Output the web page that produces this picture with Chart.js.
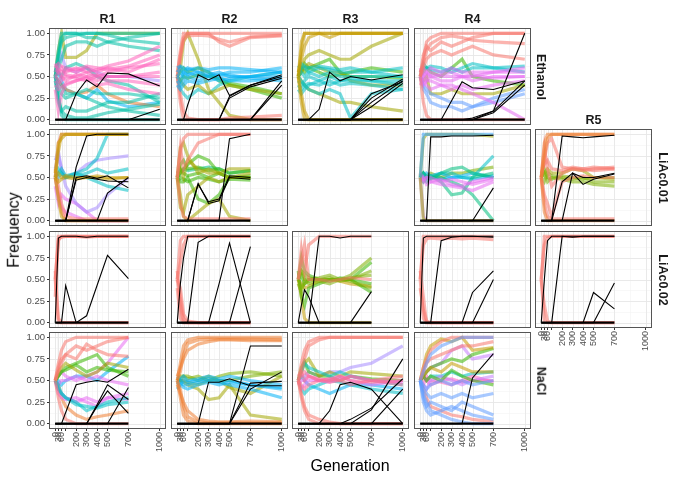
<!DOCTYPE html>
<html>
<head>
<meta charset="utf-8">
<script src="https://cdn.jsdelivr.net/npm/chart.js@4.4.1/dist/chart.umd.min.js"></script>
<style>
  body { margin: 0; background: #fff; font-family: "Liberation Sans", Arial, sans-serif; }
  #wrap { position: relative; width: 680px; height: 480px; overflow: hidden; }
  #wrap canvas { position: absolute; }
  .lbl { position: absolute; white-space: nowrap; color: #1a1a1a; transform-origin: center center; }
  .strip { font-weight: bold; font-size: 12.5px; }
  .title { font-size: 16px; color: #000; }
</style>
</head>
<body>
<div id="wrap"></div>
<script>
// generations sampled, ticks
const gens = [0, 30, 60, 100, 200, 300, 400, 500, 700, 1000];
const xTickValues = [0, 30, 60, 100, 200, 300, 400, 500, 700, 1000];
const xTickLabels = ['0', '30', '60', '', '200', '300', '400', '500', '700', '1000'];
const yTickValues = [0, 0.25, 0.5, 0.75, 1];
const yTickLabels = ['0.00', '0.25', '0.50', '0.75', '1.00'];
const replicates = ['R1', 'R2', 'R3', 'R4', 'R5'];
const conditions = ['Ethanol', 'LiAc0.01', 'LiAc0.02', 'NaCl'];

// each entry: [lineage group, frequency at gens]; 'mut' = mutation trajectories (black)
const ethanolR1 = [
  ['p', [0.50, 0.55, 0.60, 0.52, 0.50, 0.55, 0.50, 0.55, 0.60, 0.65]],
  ['p', [0.45, 0.40, 0.45, 0.50, 0.48, 0.45, 0.50, 0.45, 0.45, 0.40]],
  ['p', [0.55, 0.60, 0.55, 0.58, 0.55, 0.60, 0.55, 0.60, 0.55, 0.70]],
  ['p', [0.50, 0.45, 0.50, 0.45, 0.52, 0.50, 0.45, 0.50, 0.50, 0.50]],
  ['p', [0.40, 0.35, 0.38, 0.42, 0.45, 0.48, 0.40, 0.42, 0.35, 0.30]],
  ['p', [0.60, 0.65, 0.62, 0.60, 0.58, 0.62, 0.60, 0.58, 0.62, 0.75]],
  ['p', [0.35, 0.10, 0.30, 0.40, 0.45, 0.50, 0.52, 0.50, 0.50, 0.55]],
  ['p', [0.65, 0.55, 0.50, 0.55, 0.60, 0.55, 0.58, 0.62, 0.68, 0.85]],
  ['h', [0.50, 0.70, 0.95, 1.00, 1.00, 1.00, 1.00, 1.00, 1.00, 1.00]],
  ['h', [0.50, 0.30, 0.05, 0.00, 0.00, 0.00, 0.00, 0.00, 0.00, 0.00]],
  ['h', [0.50, 0.80, 1.00, 1.00, 1.00, 0.95, 0.95, 0.90, 0.85, 0.80]],
  ['h', [0.50, 0.20, 0.10, 0.15, 0.10, 0.10, 0.15, 0.20, 0.20, 0.30]],
  ['h', [0.50, 0.60, 0.70, 0.85, 0.90, 0.90, 0.85, 0.90, 0.95, 1.00]],
  ['h', [0.50, 0.40, 0.30, 0.25, 0.30, 0.25, 0.20, 0.15, 0.10, 0.05]],
  ['h', [0.50, 0.55, 0.50, 0.60, 0.65, 0.60, 0.50, 0.45, 0.40, 0.20]],
  ['h', [0.50, 0.45, 0.40, 0.30, 0.30, 0.35, 0.30, 0.30, 0.30, 0.25]],
  ['h', [0.55, 0.75, 0.90, 0.95, 0.98, 1.00, 1.00, 0.98, 0.92, 0.88]],
  ['h', [0.45, 0.25, 0.10, 0.05, 0.02, 0.02, 0.05, 0.08, 0.12, 0.18]],
  ['d', [0.50, 0.80, 1.00, 0.72, 0.72, 0.80, 1.00, 1.00, 1.00, 1.00]],
  ['b', [0.50, 0.45, 0.40, 0.35, 0.30, 0.32, 0.40, 0.30, 0.20, 0.15]],
  ['j', [0.50, 0.55, 0.45, 0.35, 0.30, 0.25, 0.35, 0.22, 0.15, 0.20]],
  ['m', [0.55, 0.65, 0.75, 0.60, 0.55, 0.60, 0.55, 0.50, 0.50, 0.45]],
  ['mut', [0, 0, 0, 0, 0, 0, 0, 0, 0, 0]],
  ['mut', [0, 0, 0, 0, 0.30, 0.46, 0.38, 0.54, 0.53, 0.39]],
  ['mut', [0, 0, 0, 0, 0, 0, 0, 0, 0, 0.12]]
];

const ethanolR2 = [
  ['j', [0.50, 0.55, 0.50, 0.55, 0.50, 0.52, 0.55, 0.50, 0.50, 0.50]],
  ['j', [0.45, 0.40, 0.45, 0.50, 0.45, 0.50, 0.45, 0.48, 0.50, 0.55]],
  ['j', [0.55, 0.60, 0.55, 0.60, 0.55, 0.50, 0.52, 0.55, 0.55, 0.60]],
  ['j', [0.40, 0.35, 0.40, 0.45, 0.42, 0.45, 0.48, 0.45, 0.45, 0.48]],
  ['j', [0.60, 0.62, 0.60, 0.58, 0.60, 0.58, 0.60, 0.60, 0.58, 0.55]],
  ['j', [0.50, 0.45, 0.55, 0.52, 0.55, 0.55, 0.50, 0.52, 0.48, 0.45]],
  ['a', [0.50, 0.70, 0.95, 1.00, 1.00, 1.00, 0.90, 0.85, 0.95, 0.97]],
  ['a', [0.50, 0.80, 1.00, 1.00, 1.00, 1.00, 1.00, 1.00, 1.00, 1.00]],
  ['a', [0.50, 0.30, 0.10, 0.02, 0.00, 0.00, 0.00, 0.02, 0.03, 0.05]],
  ['a', [0.50, 0.20, 0.00, 0.00, 0.00, 0.00, 0.00, 0.00, 0.00, 0.00]],
  ['a', [0.55, 0.75, 0.92, 0.97, 0.98, 0.97, 0.93, 0.90, 0.96, 0.98]],
  ['d', [0.50, 0.60, 0.90, 1.00, 0.70, 0.35, 0.20, 0.05, 0.00, 0.00]],
  ['d', [0.50, 0.45, 0.40, 0.35, 0.40, 0.30, 0.35, 0.40, 0.35, 0.30]],
  ['i', [0.50, 0.35, 0.30, 0.25, 0.35, 0.30, 0.40, 0.45, 0.50, 0.55]],
  ['f', [0.50, 0.55, 0.60, 0.55, 0.60, 0.55, 0.45, 0.40, 0.35, 0.25]],
  ['f', [0.50, 0.45, 0.50, 0.48, 0.52, 0.50, 0.48, 0.42, 0.38, 0.30]],
  ['mut', [0, 0, 0, 0, 0, 0, 0, 0, 0, 0]],
  ['mut', [0, 0, 0, 0.17, 0.52, 0.46, 0.52, 0.28, 0.40, 0.50]],
  ['mut', [0, 0, 0, 0, 0, 0, 0, 0.25, 0.38, 0.48]],
  ['mut', [0, 0, 0, 0, 0, 0, 0, 0.27, 0.40, 0.52]],
  ['mut', [0, 0, 0, 0, 0, 0, 0, 0, 0, 0.45]],
  ['mut', [0, 0, 0, 0, 0, 0, 0, 0, 0, 0.40]]
];

const ethanolR3 = [
  ['c', [0.50, 0.80, 1.00, 1.00, 1.00, 1.00, 1.00, 1.00, 1.00, 1.00]],
  ['c', [0.50, 0.20, 0.00, 0.00, 0.00, 0.00, 0.00, 0.00, 0.00, 0.00]],
  ['c', [0.50, 0.90, 1.00, 1.00, 1.00, 0.95, 1.00, 1.00, 1.00, 1.00]],
  ['c', [0.50, 0.30, 0.10, 0.00, 0.00, 0.00, 0.00, 0.00, 0.00, 0.00]],
  ['c', [0.55, 0.70, 0.85, 0.95, 1.00, 1.00, 1.00, 1.00, 1.00, 1.00]],
  ['i', [0.50, 0.55, 0.50, 0.55, 0.50, 0.55, 0.50, 0.50, 0.50, 0.50]],
  ['i', [0.45, 0.40, 0.45, 0.50, 0.45, 0.50, 0.45, 0.45, 0.45, 0.40]],
  ['i', [0.55, 0.60, 0.60, 0.55, 0.60, 0.58, 0.55, 0.55, 0.55, 0.60]],
  ['i', [0.40, 0.35, 0.40, 0.42, 0.40, 0.45, 0.40, 0.42, 0.40, 0.35]],
  ['i', [0.60, 0.65, 0.62, 0.60, 0.62, 0.60, 0.58, 0.60, 0.55, 0.50]],
  ['i', [0.50, 0.45, 0.40, 0.35, 0.30, 0.35, 0.30, 0.02, 0.30, 0.35]],
  ['i', [0.35, 0.30, 0.35, 0.40, 0.45, 0.40, 0.45, 0.48, 0.45, 0.45]],
  ['d', [0.50, 0.60, 0.70, 0.75, 0.80, 0.75, 0.70, 0.70, 0.85, 1.00]],
  ['d', [0.50, 0.55, 0.60, 0.65, 0.60, 0.55, 0.55, 0.45, 0.40, 0.40]],
  ['d', [0.50, 0.45, 0.40, 0.35, 0.30, 0.25, 0.20, 0.20, 0.15, 0.10]],
  ['f', [0.50, 0.60, 0.55, 0.60, 0.65, 0.70, 0.55, 0.50, 0.50, 0.48]],
  ['f', [0.50, 0.55, 0.65, 0.60, 0.55, 0.50, 0.52, 0.55, 0.60, 0.55]],
  ['mut', [0, 0, 0, 0, 0, 0, 0, 0, 0, 0]],
  ['mut', [0, 0, 0, 0, 0.12, 0.55, 0.45, 0.50, 0.46, 0.52]],
  ['mut', [0, 0, 0, 0, 0, 0, 0, 0, 0.20, 0.45]],
  ['mut', [0, 0, 0, 0, 0, 0, 0, 0, 0.25, 0.47]],
  ['mut', [0, 0, 0, 0, 0, 0, 0, 0, 0.15, 0.42]],
  ['mut', [0, 0, 0, 0, 0, 0, 0, 0, 0.30, 0.44]]
];

const ethanolR4 = [
  ['a', [0.50, 0.70, 0.90, 0.95, 1.00, 1.00, 1.00, 1.00, 1.00, 1.00]],
  ['a', [0.50, 0.75, 0.85, 0.80, 0.90, 0.85, 0.90, 0.95, 1.00, 1.00]],
  ['a', [0.50, 0.60, 0.70, 0.75, 0.80, 0.75, 0.80, 0.85, 0.75, 0.70]],
  ['a', [0.50, 0.20, 0.05, 0.00, 0.00, 0.00, 0.00, 0.00, 0.00, 0.00]],
  ['a', [0.55, 0.65, 0.80, 0.88, 0.95, 0.97, 0.95, 0.92, 0.90, 0.88]],
  ['o', [0.50, 0.55, 0.50, 0.55, 0.50, 0.50, 0.50, 0.50, 0.55, 0.55]],
  ['o', [0.45, 0.50, 0.45, 0.50, 0.45, 0.45, 0.50, 0.45, 0.50, 0.50]],
  ['o', [0.55, 0.60, 0.55, 0.60, 0.55, 0.60, 0.55, 0.55, 0.55, 0.60]],
  ['o', [0.50, 0.40, 0.45, 0.45, 0.40, 0.40, 0.35, 0.30, 0.20, 0.00]],
  ['o', [0.40, 0.45, 0.40, 0.35, 0.40, 0.35, 0.40, 0.35, 0.40, 0.45]],
  ['o', [0.60, 0.50, 0.55, 0.50, 0.52, 0.55, 0.50, 0.52, 0.48, 0.50]],
  ['i', [0.55, 0.60, 0.60, 0.58, 0.55, 0.60, 0.55, 0.60, 0.60, 0.62]],
  ['i', [0.50, 0.65, 0.60, 0.62, 0.60, 0.55, 0.60, 0.65, 0.60, 0.55]],
  ['l', [0.50, 0.40, 0.35, 0.30, 0.25, 0.20, 0.20, 0.15, 0.25, 0.35]],
  ['l', [0.50, 0.35, 0.30, 0.20, 0.15, 0.15, 0.10, 0.15, 0.20, 0.30]],
  ['d', [0.50, 0.45, 0.50, 0.30, 0.30, 0.35, 0.30, 0.30, 0.30, 0.40]],
  ['f', [0.50, 0.55, 0.60, 0.55, 0.50, 0.60, 0.70, 0.50, 0.45, 0.40]],
  ['mut', [0, 0, 0, 0, 0, 0, 0, 0, 0, 0]],
  ['mut', [0, 0, 0, 0, 0, 0.22, 0.44, 0.37, 0.35, 0.45]],
  ['mut', [0, 0, 0, 0, 0, 0, 0, 0, 0.10, 1.00]],
  ['mut', [0, 0, 0, 0, 0, 0, 0, 0.02, 0.10, 0.45]],
  ['mut', [0, 0, 0, 0, 0, 0, 0, 0, 0.08, 0.40]]
];

const liac01R1 = [
  ['c', [0.50, 0.80, 1.00, 1.00, 1.00, 1.00, 1.00, 1.00, 1.00]],
  ['c', [0.50, 0.25, 0.05, 0.00, 0.00, 0.00, 0.00, 0.00, 0.00]],
  ['c', [0.50, 0.55, 0.50, 0.52, 0.50, 0.50, 0.52, 0.50, 0.50]],
  ['c', [0.50, 0.45, 0.48, 0.50, 0.48, 0.50, 0.50, 0.48, 0.50]],
  ['c', [0.55, 0.90, 0.95, 1.00, 1.00, 1.00, 1.00, 1.00, 1.00]],
  ['a', [0.50, 0.30, 0.10, 0.00, 0.00, 0.00, 0.00, 0.00, 0.00]],
  ['a', [0.50, 0.90, 1.00, 1.00, 1.00, 1.00, 1.00, 1.00, 1.00]],
  ['a', [0.60, 0.40, 0.20, 0.05, 0.02, 0.02, 0.02, 0.02, 0.02]],
  ['i', [0.50, 0.60, 0.55, 0.50, 0.55, 0.60, 0.72, 1.00, 1.00]],
  ['i', [0.50, 0.55, 0.60, 0.52, 0.55, 0.50, 0.45, 0.40, 0.35]],
  ['i', [0.55, 0.50, 0.55, 0.50, 0.52, 0.55, 0.60, 0.55, 0.60]],
  ['m', [0.60, 0.75, 0.60, 0.50, 0.55, 0.65, 0.70, 0.72, 0.75]],
  ['m', [0.70, 0.80, 0.60, 0.40, 0.20, 0.10, 0.15, 0.30, 0.50]],
  ['o', [0.50, 0.30, 0.15, 0.10, 0.05, 0.00, 0.00, 0.00, 0.00]],
  ['o', [0.40, 0.20, 0.30, 0.25, 0.20, 0.10, 0.00, 0.00, 0.00]],
  ['mut', [0, 0, 0, 0, 0, 0, 0, 0, 0]],
  ['mut', [0, 0, 0, 0, 0.62, 0.98, 1.00, 1.00, 1.00]],
  ['mut', [0, 0, 0, 0, 0.50, 0.52, 0.49, 0.52, 0.38]],
  ['mut', [0, 0, 0, 0, 0.47, 0.50, 0.48, 0.46, 0.45]],
  ['mut', [0, 0, 0, 0, 0, 0, 0, 0.32, 0.50]]
];

const liac01R2 = [
  ['a', [0.50, 0.80, 0.95, 1.00, 1.00, 1.00, 1.00, 1.00, 1.00]],
  ['a', [0.50, 0.20, 0.05, 0.02, 0.02, 0.02, 0.02, 0.02, 0.02]],
  ['a', [0.50, 0.85, 0.60, 0.70, 0.90, 0.95, 1.00, 1.00, 1.00]],
  ['d', [0.50, 0.85, 0.90, 0.75, 0.55, 0.60, 0.55, 0.50, 0.55]],
  ['d', [0.50, 0.15, 0.10, 0.30, 0.40, 0.50, 0.45, 0.50, 0.50]],
  ['d', [0.50, 0.30, 0.05, 0.00, 0.10, 0.20, 0.25, 0.05, 0.00]],
  ['d', [0.50, 0.60, 0.50, 0.70, 0.60, 0.55, 0.55, 0.60, 0.60]],
  ['f', [0.50, 0.55, 0.60, 0.65, 0.75, 0.70, 0.55, 0.50, 0.50]],
  ['f', [0.50, 0.45, 0.45, 0.50, 0.25, 0.20, 0.30, 0.50, 0.50]],
  ['f', [0.55, 0.60, 0.55, 0.52, 0.55, 0.50, 0.55, 0.50, 0.52]],
  ['f', [0.45, 0.50, 0.48, 0.45, 0.50, 0.48, 0.45, 0.48, 0.47]],
  ['f', [0.50, 0.65, 0.70, 0.60, 0.62, 0.58, 0.60, 0.55, 0.58]],
  ['g', [0.50, 0.55, 0.60, 0.58, 0.60, 0.62, 0.60, 0.55, 0.58]],
  ['mut', [0, 0, 0, 0, 0, 0, 0, 0, 0]],
  ['mut', [0, 0, 0, 0, 0.43, 0.20, 0.23, 0.50, 0.48]],
  ['mut', [0, 0, 0, 0, 0.42, 0.22, 0.25, 0.52, 0.50]],
  ['mut', [0, 0, 0, 0, 0, 0, 0, 0.95, 1.00]]
];

const liac01R4 = [
  ['k', [0.50, 1.00, 1.00, 1.00, 1.00, 1.00, 1.00, 1.00, 1.00]],
  ['d', [0.50, 0.95, 1.00, 1.00, 1.00, 1.00, 1.00, 1.00, 0.98]],
  ['d', [0.50, 0.02, 0.00, 0.00, 0.00, 0.00, 0.00, 0.00, 0.00]],
  ['n', [0.50, 0.05, 0.00, 0.00, 0.00, 0.00, 0.00, 0.00, 0.00]],
  ['o', [0.50, 0.45, 0.50, 0.45, 0.48, 0.42, 0.40, 0.45, 0.50]],
  ['o', [0.45, 0.50, 0.42, 0.45, 0.42, 0.40, 0.38, 0.35, 0.45]],
  ['o', [0.55, 0.48, 0.50, 0.50, 0.45, 0.48, 0.45, 0.42, 0.48]],
  ['g', [0.50, 0.55, 0.50, 0.52, 0.45, 0.30, 0.32, 0.50, 0.55]],
  ['g', [0.50, 0.45, 0.50, 0.48, 0.55, 0.60, 0.62, 0.55, 0.50]],
  ['i', [0.50, 0.55, 0.50, 0.50, 0.55, 0.55, 0.50, 0.50, 0.75]],
  ['g', [0.50, 0.50, 0.45, 0.50, 0.50, 0.45, 0.40, 0.30, 0.00]],
  ['j', [0.50, 0.50, 0.55, 0.52, 0.55, 0.50, 0.52, 0.55, 0.50]],
  ['j', [0.52, 0.55, 0.50, 0.50, 0.48, 0.50, 0.50, 0.48, 0.52]],
  ['e', [0.50, 0.55, 0.52, 0.55, 0.50, 0.55, 0.55, 0.58, 0.62]],
  ['mut', [0, 0, 0, 0, 0, 0, 0, 0, 0]],
  ['mut', [0, 0, 0, 0.97, 0.97, 0.98, 0.98, 0.98, 0.99]],
  ['mut', [0, 0, 0, 0, 0, 0, 0, 0, 0.38]]
];

const liac01R5 = [
  ['b', [0.50, 0.90, 1.00, 1.00, 1.00, 1.00, 1.00, 1.00, 1.00]],
  ['b', [0.50, 0.10, 0.00, 0.00, 0.00, 0.00, 0.00, 0.00, 0.00]],
  ['b', [0.50, 0.75, 0.95, 1.00, 1.00, 1.00, 1.00, 1.00, 1.00]],
  ['a', [0.50, 0.85, 0.60, 0.40, 0.55, 0.60, 0.60, 0.62, 0.60]],
  ['a', [0.50, 0.30, 0.20, 0.05, 0.45, 0.50, 0.52, 0.50, 0.50]],
  ['a', [0.50, 0.70, 0.90, 0.95, 0.62, 0.60, 0.58, 0.60, 0.62]],
  ['a', [0.50, 0.20, 0.05, 0.02, 0.02, 0.02, 0.02, 0.02, 0.02]],
  ['a', [0.55, 0.65, 0.70, 0.60, 0.58, 0.62, 0.60, 0.58, 0.60]],
  ['e', [0.50, 0.55, 0.45, 0.50, 0.48, 0.45, 0.45, 0.42, 0.40]],
  ['e', [0.50, 0.45, 0.55, 0.52, 0.50, 0.48, 0.50, 0.45, 0.45]],
  ['e', [0.50, 0.60, 0.50, 0.48, 0.52, 0.50, 0.48, 0.50, 0.50]],
  ['d', [0.50, 0.55, 0.60, 0.55, 0.55, 0.60, 0.58, 0.50, 0.48]],
  ['mut', [0, 0, 0, 0, 0, 0, 0, 0, 0]],
  ['mut', [0, 0, 0, 0, 0.98, 0.97, 0.96, 0.97, 0.99]],
  ['mut', [0, 0, 0, 0, 0, 0.55, 0.42, 0.48, 0.54]],
  ['mut', [0, 0, 0, 0, 0.45, 0.55, 0.50, 0.50, 0.55]]
];

const liac02R1 = [
  ['a', [0.50, 1.00, 1.00, 1.00, 1.00, 1.00, 1.00, 1.00, 1.00]],
  ['a', [0.50, 0.95, 1.00, 1.00, 1.00, 0.99, 1.00, 1.00, 1.00]],
  ['a', [0.50, 0.00, 0.00, 0.00, 0.00, 0.00, 0.00, 0.00, 0.00]],
  ['a', [0.60, 0.05, 0.00, 0.00, 0.00, 0.00, 0.00, 0.00, 0.00]],
  ['a', [0.30, 0.97, 0.99, 1.00, 1.00, 1.00, 1.00, 1.00, 1.00]],
  ['mut', [0, 0, 0, 0, 0, 0, 0, 0, 0]],
  ['mut', [0, 0.98, 1.00, 1.00, 1.00, 0.99, 1.00, 1.00, 1.00]],
  ['mut', [0, 0, 0, 0.43, 0, 0.08, 0.43, 0.78, 0.51]]
];

const liac02R2 = [
  ['a', [0.50, 0.95, 1.00, 1.00, 1.00, 1.00, 1.00, 1.00, 1.00]],
  ['a', [0.50, 0.40, 0.10, 0.02, 0.00, 0.00, 0.00, 0.00, 0.00]],
  ['a', [0.50, 0.20, 0.00, 0.00, 0.00, 0.00, 0.00, 0.00, 0.00]],
  ['a', [0.50, 0.70, 0.90, 1.00, 1.00, 1.00, 1.00, 1.00, 1.00]],
  ['a', [0.40, 0.05, 0.00, 0.00, 0.00, 0.00, 0.00, 0.00, 0.00]],
  ['a', [0.60, 0.30, 0.05, 0.00, 0.00, 0.00, 0.00, 0.00, 0.00]],
  ['mut', [0, 0, 0, 0, 0, 0, 0, 0, 0]],
  ['mut', [0, 0.45, 0.75, 1.00, 1.00, 1.00, 1.00, 1.00, 1.00]],
  ['mut', [0, 0, 0, 0, 0.93, 1.00, 1.00, 1.00, 1.00]],
  ['mut', [0, 0, 0, 0, 0, 0, 0.45, 0.92, 0]],
  ['mut', [0, 0, 0, 0, 0, 0, 0, 0, 0.88]]
];

const liac02R3 = [
  ['a', [0.50, 0.85, 0.60, 0.90, 1.00, 1.00, 1.00, 1.00, 1.00]],
  ['a', [0.50, 0.70, 0.90, 0.50, 0.50, 0.48, 0.50, 0.52, 0.50]],
  ['e', [0.50, 0.60, 0.55, 0.52, 0.50, 0.50, 0.50, 0.55, 0.75]],
  ['e', [0.50, 0.40, 0.45, 0.48, 0.50, 0.52, 0.48, 0.50, 0.60]],
  ['e', [0.55, 0.60, 0.50, 0.50, 0.52, 0.55, 0.50, 0.52, 0.55]],
  ['e', [0.45, 0.35, 0.50, 0.45, 0.48, 0.45, 0.50, 0.48, 0.40]],
  ['f', [0.50, 0.55, 0.45, 0.50, 0.50, 0.48, 0.52, 0.50, 0.70]],
  ['f', [0.50, 0.75, 0.60, 0.55, 0.50, 0.50, 0.50, 0.50, 0.45]],
  ['f', [0.60, 0.30, 0.20, 0.40, 0.45, 0.50, 0.50, 0.50, 0.35]],
  ['c', [0.50, 0.30, 0.05, 0.00, 0.00, 0.00, 0.00, 0.00, 0.00]],
  ['c', [0.50, 0.45, 0.40, 0.42, 0.48, 0.50, 0.48, 0.45, 0.42]],
  ['mut', [0, 0, 0, 0, 0, 0, 0, 0, 0]],
  ['mut', [0, 0, 0, 0, 1.00, 1.00, 0.98, 1.00, 1.00]],
  ['mut', [0, 0.20, 0.38, 0.30, 0, 0, 0, 0, 0]],
  ['mut', [0, 0, 0, 0, 0, 0, 0, 0, 0.36]]
];

const liac02R4 = [
  ['a', [0.50, 1.00, 1.00, 1.00, 1.00, 1.00, 1.00, 1.00, 1.00]],
  ['a', [0.50, 0.90, 0.97, 0.98, 0.97, 0.98, 0.97, 0.98, 0.96]],
  ['a', [0.50, 0.05, 0.00, 0.00, 0.00, 0.00, 0.00, 0.00, 0.00]],
  ['a', [0.60, 0.30, 0.00, 0.00, 0.00, 0.00, 0.00, 0.00, 0.00]],
  ['a', [0.40, 0.15, 0.02, 0.00, 0.00, 0.00, 0.00, 0.00, 0.00]],
  ['mut', [0, 0, 0, 0, 0, 0, 0, 0, 0]],
  ['mut', [0, 0.98, 1.00, 1.00, 1.00, 1.00, 1.00, 1.00, 1.00]],
  ['mut', [0, 0, 0, 0, 0.95, 0.99, 1.00, 1.00, 0.99]],
  ['mut', [0, 0, 0, 0, 0, 0, 0, 0.35, 0.60]],
  ['mut', [0, 0, 0, 0, 0, 0, 0, 0, 0.50]]
];

const liac02R5 = [
  ['a', [0.50, 1.00, 1.00, 1.00, 1.00, 1.00, 1.00, 1.00, 1.00]],
  ['a', [0.50, 0.90, 0.98, 1.00, 1.00, 1.00, 1.00, 1.00, 1.00]],
  ['a', [0.50, 0.02, 0.00, 0.00, 0.00, 0.00, 0.00, 0.00, 0.00]],
  ['a', [0.50, 0.20, 0.02, 0.00, 0.00, 0.00, 0.00, 0.00, 0.00]],
  ['mut', [0, 0, 0, 0, 0, 0, 0, 0, 0]],
  ['mut', [0, 0.50, 0.95, 1.00, 1.00, 1.00, 1.00, 1.00, 1.00]],
  ['mut', [0, 0, 0, 0, 1.00, 0.99, 1.00, 1.00, 1.00]],
  ['mut', [0, 0, 0, 0, 0, 0, 0, 0.35, 0.16]],
  ['mut', [0, 0, 0, 0, 0, 0, 0, 0, 0.46]]
];

const naclR1 = [
  ['a', [0.50, 0.70, 0.85, 0.95, 1.00, 1.00, 1.00, 1.00, 1.00]],
  ['a', [0.50, 0.60, 0.70, 0.80, 0.90, 0.85, 0.90, 0.95, 1.00]],
  ['a', [0.50, 0.30, 0.15, 0.05, 0.00, 0.00, 0.00, 0.00, 0.00]],
  ['a', [0.50, 0.65, 0.75, 0.80, 0.75, 0.92, 0.85, 0.80, 0.78]],
  ['d', [0.50, 0.60, 0.65, 0.70, 0.62, 0.55, 0.60, 0.70, 0.65]],
  ['f', [0.50, 0.55, 0.60, 0.62, 0.68, 0.60, 0.65, 0.62, 0.60]],
  ['f', [0.50, 0.55, 0.60, 0.65, 0.70, 0.75, 0.80, 0.65, 0.55]],
  ['i', [0.50, 0.40, 0.35, 0.30, 0.25, 0.15, 0.20, 0.25, 0.30]],
  ['i', [0.50, 0.45, 0.35, 0.30, 0.22, 0.20, 0.18, 0.22, 0.25]],
  ['o', [0.50, 0.40, 0.35, 0.30, 0.25, 0.30, 0.25, 0.30, 0.28]],
  ['o', [0.50, 0.35, 0.30, 0.28, 0.30, 0.25, 0.20, 0.30, 0.35]],
  ['o', [0.50, 0.45, 0.50, 0.50, 0.55, 0.50, 0.55, 0.50, 0.45]],
  ['o', [0.50, 0.55, 0.60, 0.55, 0.50, 0.55, 0.60, 0.70, 1.00]],
  ['j', [0.50, 0.50, 0.45, 0.50, 0.55, 0.55, 0.50, 0.60, 0.78]],
  ['b', [0.50, 0.45, 0.30, 0.20, 0.10, 0.05, 0.08, 0.10, 0.15]],
  ['mut', [0, 0, 0, 0, 0, 0, 0, 0, 0]],
  ['mut', [0, 0, 0, 0.13, 0.45, 0.48, 0.50, 0.48, 0.63]],
  ['mut', [0, 0, 0, 0, 0, 0, 0.22, 0.45, 0.28]],
  ['mut', [0, 0, 0, 0, 0, 0, 0.20, 0.38, 0.12]],
  ['mut', [0, 0, 0, 0, 0, 0, 0, 0, 0.42]]
];

const naclR2 = [
  ['b', [0.50, 0.70, 0.90, 0.97, 1.00, 1.00, 1.00, 1.00, 1.00, 1.00]],
  ['b', [0.50, 0.60, 0.80, 0.93, 0.97, 0.98, 0.98, 0.98, 0.98, 0.97]],
  ['b', [0.50, 0.30, 0.10, 0.03, 0.00, 0.00, 0.00, 0.00, 0.00, 0.00]],
  ['b', [0.50, 0.40, 0.20, 0.08, 0.02, 0.01, 0.01, 0.01, 0.01, 0.01]],
  ['b', [0.55, 0.65, 0.75, 0.85, 0.92, 0.95, 0.97, 0.97, 0.96, 0.96]],
  ['b', [0.45, 0.35, 0.25, 0.15, 0.05, 0.03, 0.02, 0.02, 0.03, 0.02]],
  ['j', [0.50, 0.45, 0.50, 0.48, 0.50, 0.52, 0.50, 0.50, 0.45, 0.40]],
  ['j', [0.45, 0.50, 0.45, 0.45, 0.48, 0.50, 0.48, 0.45, 0.40, 0.30]],
  ['j', [0.55, 0.52, 0.55, 0.50, 0.52, 0.55, 0.52, 0.55, 0.50, 0.45]],
  ['j', [0.40, 0.45, 0.42, 0.40, 0.45, 0.48, 0.45, 0.48, 0.45, 0.42]],
  ['e', [0.50, 0.55, 0.55, 0.52, 0.55, 0.50, 0.55, 0.58, 0.60, 0.55]],
  ['e', [0.52, 0.50, 0.55, 0.55, 0.50, 0.55, 0.50, 0.50, 0.55, 0.60]],
  ['d', [0.50, 0.50, 0.48, 0.45, 0.40, 0.28, 0.30, 0.45, 0.10, 0.05]],
  ['d', [0.50, 0.50, 0.50, 0.48, 0.45, 0.50, 0.50, 0.42, 0.35, 0.55]],
  ['mut', [0, 0, 0, 0, 0, 0, 0, 0, 0, 0]],
  ['mut', [0, 0, 0, 0, 0, 0.48, 0.48, 0.52, 0.44, 0.44]],
  ['mut', [0, 0, 0, 0, 0, 0, 0, 0, 0.90, 0.90]],
  ['mut', [0, 0, 0, 0, 0, 0, 0, 0, 0.47, 0.49]],
  ['mut', [0, 0, 0, 0, 0, 0, 0, 0, 0.40, 0.60]]
];

const naclR3 = [
  ['a', [0.50, 0.70, 0.85, 0.95, 1.00, 1.00, 1.00, 1.00, 1.00, 1.00]],
  ['a', [0.50, 0.60, 0.75, 0.90, 0.97, 1.00, 1.00, 1.00, 1.00, 1.00]],
  ['a', [0.50, 0.30, 0.15, 0.05, 0.00, 0.00, 0.00, 0.00, 0.00, 0.00]],
  ['a', [0.50, 0.35, 0.20, 0.10, 0.05, 0.02, 0.00, 0.00, 0.00, 0.00]],
  ['q', [0.50, 0.55, 0.60, 0.55, 0.50, 0.52, 0.50, 0.55, 0.50, 0.45]],
  ['q', [0.50, 0.45, 0.40, 0.45, 0.50, 0.48, 0.50, 0.45, 0.50, 0.55]],
  ['q', [0.55, 0.60, 0.50, 0.55, 0.52, 0.50, 0.55, 0.50, 0.48, 0.50]],
  ['o', [0.50, 0.40, 0.45, 0.50, 0.50, 0.48, 0.52, 0.55, 0.50, 0.48]],
  ['o', [0.45, 0.50, 0.50, 0.55, 0.50, 0.52, 0.55, 0.50, 0.45, 0.50]],
  ['i', [0.50, 0.60, 0.70, 0.65, 0.60, 0.55, 0.60, 0.55, 0.50, 0.45]],
  ['i', [0.50, 0.40, 0.35, 0.40, 0.45, 0.50, 0.48, 0.45, 0.40, 0.35]],
  ['j', [0.50, 0.55, 0.50, 0.45, 0.40, 0.35, 0.40, 0.45, 0.45, 0.40]],
  ['d', [0.50, 0.60, 0.70, 0.75, 0.55, 0.60, 0.55, 0.60, 0.58, 0.55]],
  ['f', [0.50, 0.65, 0.72, 0.60, 0.55, 0.55, 0.50, 0.55, 0.52, 0.50]],
  ['m', [0.50, 0.55, 0.55, 0.60, 0.55, 0.60, 0.60, 0.65, 0.70, 0.90]],
  ['mut', [0, 0, 0, 0, 0, 0, 0, 0, 0, 0]],
  ['mut', [0, 0, 0, 0, 0, 0.15, 0.45, 0.48, 0.40, 0]],
  ['mut', [0, 0, 0, 0, 0, 0, 0, 0, 0.16, 0.75]],
  ['mut', [0, 0, 0, 0, 0, 0, 0, 0, 0, 0.40]],
  ['mut', [0, 0, 0, 0, 0, 0, 0, 0.05, 0.18, 0.52]]
];

const naclR4 = [
  ['l', [0.50, 0.35, 0.25, 0.15, 0.10, 0.05, 0.02, 0.00, 0.00]],
  ['l', [0.50, 0.30, 0.20, 0.25, 0.20, 0.15, 0.25, 0.20, 0.10]],
  ['l', [0.50, 0.60, 0.70, 0.80, 0.90, 0.95, 1.00, 1.00, 1.00]],
  ['l', [0.50, 0.45, 0.40, 0.45, 0.50, 0.45, 0.50, 0.45, 0.50]],
  ['l', [0.50, 0.40, 0.35, 0.30, 0.35, 0.30, 0.35, 0.30, 0.35]],
  ['l', [0.50, 0.25, 0.15, 0.10, 0.15, 0.20, 0.15, 0.10, 0.05]],
  ['a', [0.50, 0.65, 0.75, 0.85, 0.95, 1.00, 1.00, 1.00, 1.00]],
  ['a', [0.50, 0.60, 0.70, 0.75, 0.80, 0.85, 0.90, 0.90, 0.95]],
  ['a', [0.50, 0.40, 0.30, 0.20, 0.15, 0.10, 0.08, 0.05, 0.02]],
  ['c', [0.50, 0.65, 0.80, 0.90, 0.98, 0.95, 1.00, 0.85, 0.88]],
  ['c', [0.50, 0.55, 0.60, 0.65, 0.60, 0.70, 0.65, 0.60, 0.60]],
  ['f', [0.50, 0.55, 0.60, 0.65, 0.70, 0.75, 0.72, 0.80, 0.87]],
  ['f', [0.50, 0.55, 0.50, 0.55, 0.50, 0.62, 0.55, 0.50, 0.45]],
  ['n', [0.50, 0.55, 0.60, 0.65, 0.70, 0.85, 0.90, 0.75, 0.80]],
  ['n', [0.50, 0.45, 0.40, 0.50, 0.55, 0.50, 0.45, 0.50, 0.55]],
  ['p', [0.50, 0.55, 0.50, 0.45, 0.50, 0.52, 0.48, 0.50, 0.50]],
  ['p', [0.50, 0.45, 0.55, 0.50, 0.48, 0.45, 0.50, 0.55, 0.48]],
  ['i', [0.50, 0.55, 0.50, 0.55, 0.55, 0.60, 0.55, 0.58, 0.60]],
  ['mut', [0, 0, 0, 0, 0, 0, 0, 0, 0]],
  ['mut', [0, 0, 0, 0, 0, 0, 0, 0.53, 0.81]]
];

// ggplot-like hue colours for lineage groups
const groupColours = {
  a: '#F8766D', b: '#EE7E32', c: '#C49A00', d: '#A3A500', e: '#7CAE00',
  f: '#39B600', g: '#00BF7D', h: '#00BFA6', i: '#00BFC4', j: '#00B0F6',
  k: '#35A2FF', l: '#619CFF', m: '#A58AFF', n: '#C77CFF', o: '#E76BF3',
  p: '#FF62BC', q: '#FF6C91'
};

const panels = [
  [0, 0, ethanolR1], [0, 1, ethanolR2], [0, 2, ethanolR3], [0, 3, ethanolR4],
  [1, 0, liac01R1], [1, 1, liac01R2], [1, 3, liac01R4], [1, 4, liac01R5],
  [2, 0, liac02R1], [2, 1, liac02R2], [2, 2, liac02R3], [2, 3, liac02R4], [2, 4, liac02R5],
  [3, 0, naclR1], [3, 1, naclR2], [3, 2, naclR3], [3, 3, naclR4]
];

const wrap = document.getElementById('wrap');
const PW = 115, PH = 95;
const colLeft = c => Math.round(50 + c * 121.5);
const rowTop = r => Math.round(29 + r * 101.3);

function withAlpha(hex, a) {
  const n = parseInt(hex.slice(1), 16);
  return `rgba(${(n >> 16) & 255},${(n >> 8) & 255},${n & 255},${a})`;
}

function midpoints(vals) {
  const out = [];
  for (let i = 0; i < vals.length - 1; i++) out.push((vals[i] + vals[i + 1]) / 2);
  return out;
}

const panelGrid = {
  id: 'panelGrid',
  beforeDatasetsDraw(chart) {
    const { ctx, chartArea: a, scales: { x, y } } = chart;
    ctx.save();
    ctx.fillStyle = '#fff';
    ctx.fillRect(a.left, a.top, a.width, a.height);
    const vline = (v, col, w) => {
      const px = Math.round(x.getPixelForValue(v)) + 0.5;
      ctx.strokeStyle = col; ctx.lineWidth = w;
      ctx.beginPath(); ctx.moveTo(px, a.top); ctx.lineTo(px, a.bottom); ctx.stroke();
    };
    const hline = (v, col, w) => {
      const py = Math.round(y.getPixelForValue(v)) + 0.5;
      ctx.strokeStyle = col; ctx.lineWidth = w;
      ctx.beginPath(); ctx.moveTo(a.left, py); ctx.lineTo(a.right, py); ctx.stroke();
    };
    midpoints(xTickValues).forEach(v => vline(v, '#F3F3F3', 0.6));
    midpoints(yTickValues).forEach(v => hline(v, '#F3F3F3', 0.6));
    xTickValues.forEach(v => vline(v, '#E6E6E6', 0.9));
    yTickValues.forEach(v => hline(v, '#E6E6E6', 0.9));
    ctx.restore();
  },
  afterDatasetsDraw(chart) {
    const { ctx, chartArea: a } = chart;
    ctx.save();
    ctx.strokeStyle = '#555';
    ctx.lineWidth = 1;
    ctx.strokeRect(a.left - 0.5, a.top - 0.5, a.width + 1, a.height + 1);
    ctx.restore();
  }
};

function makePanel(r, c, series) {
  const showY = c === 0;
  const showX = r === 3 || (c === 4 && r === 2);
  const M = 8;
  const padL = showY ? 4 : M;
  const axisW = showY ? 42 : 0;
  const axisH = showX ? 32 : 0;
  const cw = padL + axisW + PW + M;
  const ch = M + PH + axisH + M;
  const canvas = document.createElement('canvas');
  canvas.width = cw; canvas.height = ch;
  canvas.style.left = (colLeft(c) - axisW - padL) + 'px';
  canvas.style.top = (rowTop(r) - M) + 'px';
  canvas.style.width = cw + 'px'; canvas.style.height = ch + 'px';
  wrap.appendChild(canvas);

  const datasets = series.map(([group, freq]) => {
    const isMut = group === 'mut';
    const resting = isMut && freq.every(v => v === 0);
    return {
      data: freq.map((f, i) => ({ x: gens[i], y: f })),
      borderColor: isMut ? '#000' : withAlpha(groupColours[group], 0.55),
      borderWidth: resting ? 2.2 : (isMut ? 1.1 : 3.2),
      pointRadius: 0,
      tension: 0,
      order: isMut ? 0 : 1
    };
  });

  new Chart(canvas, {
    type: 'line',
    data: { datasets },
    options: {
      responsive: false,
      animation: false,
      events: [],
      devicePixelRatio: 1,
      layout: { padding: { top: M, right: M, left: padL, bottom: M } },
      plugins: { legend: { display: false }, tooltip: { enabled: false } },
      scales: {
        x: {
          type: 'linear', min: -50, max: 1050,
          display: showX,
          afterFit: s => { s.height = axisH; },
          afterBuildTicks: s => { s.ticks = xTickValues.map(v => ({ value: v })); },
          grid: { drawOnChartArea: false, drawTicks: true, tickLength: 3, tickColor: '#333' },
          border: { display: false },
          ticks: {
            autoSkip: false, minRotation: 90, maxRotation: 90, padding: 1,
            color: '#4D4D4D', font: { size: 9, family: 'Liberation Sans' },
            callback: v => xTickLabels[xTickValues.indexOf(v)] ?? ''
          }
        },
        y: {
          type: 'linear', min: -0.05, max: 1.05,
          display: showY,
          afterFit: s => { s.width = axisW; },
          afterBuildTicks: s => { s.ticks = yTickValues.map(v => ({ value: v })); },
          grid: { drawOnChartArea: false, drawTicks: true, tickLength: 3, tickColor: '#333' },
          border: { display: false },
          ticks: {
            padding: 2, color: '#4D4D4D', font: { size: 9.5, family: 'Liberation Sans' },
            callback: v => yTickLabels[yTickValues.indexOf(v)] ?? ''
          }
        }
      }
    },
    plugins: [panelGrid]
  });
}

panels.forEach(([r, c, s]) => makePanel(r, c, s));

function addLabel(text, cx, cy, cls, rot) {
  const d = document.createElement('div');
  d.className = 'lbl ' + cls;
  d.textContent = text;
  wrap.appendChild(d);
  const w = d.offsetWidth, h = d.offsetHeight;
  d.style.left = (cx - w / 2) + 'px';
  d.style.top = (cy - h / 2) + 'px';
  if (rot) d.style.transform = `rotate(${rot}deg)`;
}

// column strips (top of each column's first panel)
[0, 1, 2, 3].forEach(c => addLabel(replicates[c], colLeft(c) + PW / 2, rowTop(0) - 10, 'strip'));
addLabel(replicates[4], colLeft(4) + PW / 2, rowTop(1) - 10, 'strip');
// row strips
addLabel(conditions[0], colLeft(3) + PW + 11, rowTop(0) + PH / 2, 'strip', 90);
addLabel(conditions[1], colLeft(4) + PW + 11, rowTop(1) + PH / 2, 'strip', 90);
addLabel(conditions[2], colLeft(4) + PW + 11, rowTop(2) + PH / 2, 'strip', 90);
addLabel(conditions[3], colLeft(3) + PW + 11, rowTop(3) + PH / 2, 'strip', 90);
// axis titles
addLabel('Frequency', 14, 230, 'title', -90);
addLabel('Generation', 350, 466, 'title');
</script>
</body>
</html>
